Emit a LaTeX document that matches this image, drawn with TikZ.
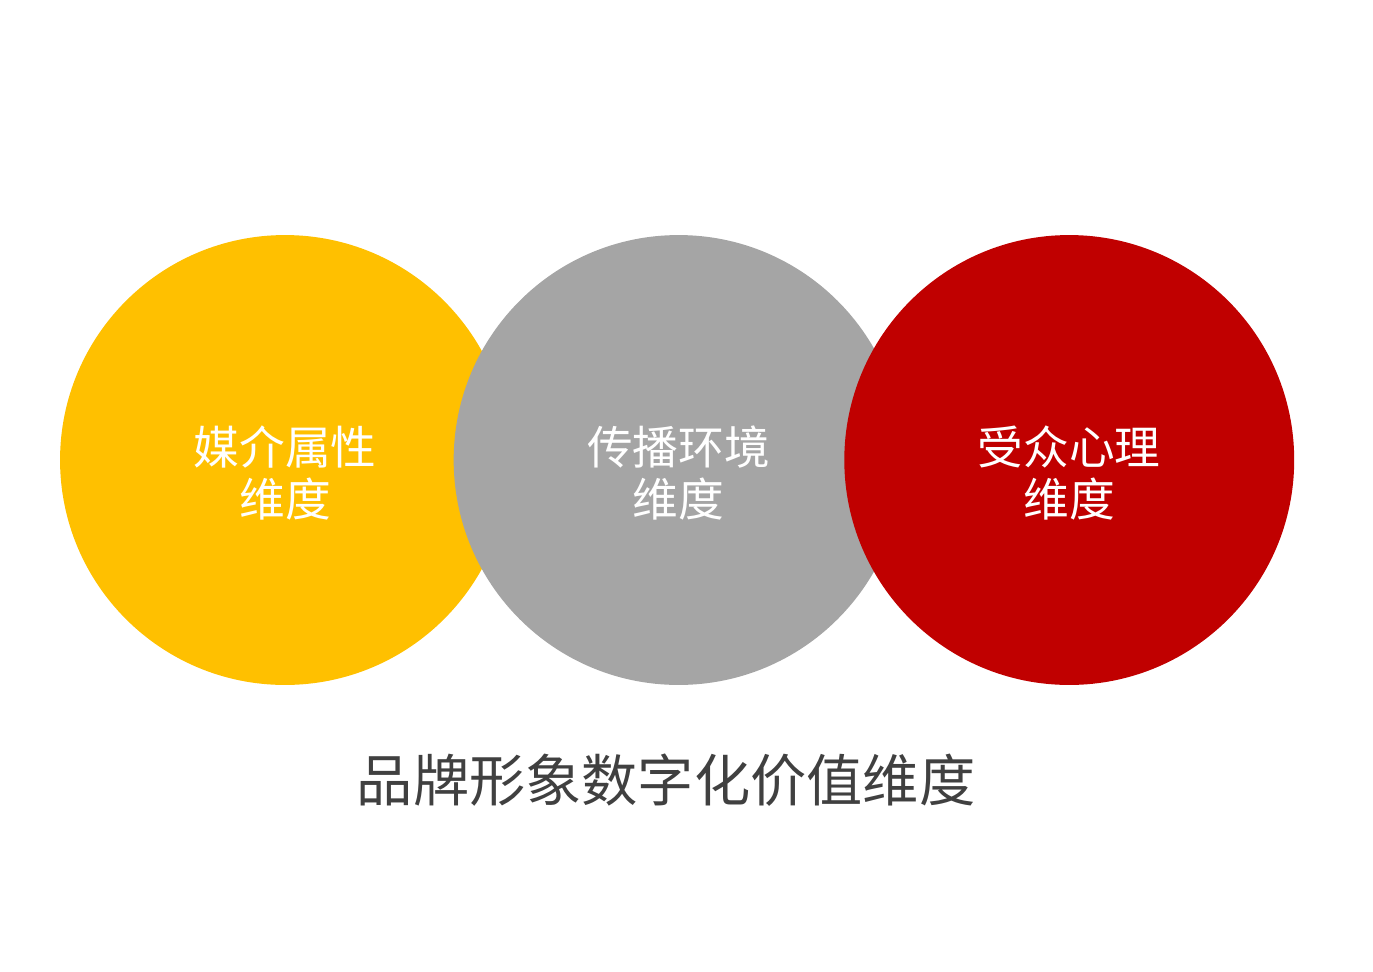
\documentclass[tikz,border=0pt]{standalone}
\usepackage{fontspec}
\usepackage{xcolor}
\usepackage{tikz}
\usetikzlibrary{positioning}
\newfontfamily\cjk{Noto Sans CJK SC}
\definecolor{dimyellow}{HTML}{FFC000}
\definecolor{dimgray}{HTML}{A5A5A5}
\definecolor{dimred}{HTML}{C00000}
\definecolor{titlegray}{HTML}{404040}
\tikzset{dim circle/.style={circle,minimum size=9cm,inner sep=0pt},dim text/.style={text=white,align=center,yshift=-0.26cm,font=\cjk\fontsize{26}{30}\selectfont},title label/.style={text=titlegray,font=\cjk\fontsize{32}{38}\selectfont}}

\begin{document}
\begin{tikzpicture}[x=0.02cm,y=-0.02cm]
			\useasboundingbox (0,0) rectangle (1373,971);
			\node[dim circle,fill=dimyellow,label={[dim text]center:{媒介属性\\维度}}] (media) at (285,460) {};
			\node[dim circle,fill=dimgray,right=-1.14cm of media,label={[dim text]center:{传播环境\\维度}}] (spread) {};
			\node[dim circle,fill=dimred,right=-1.2cm of spread,label={[dim text]center:{受众心理\\维度}}] (audience) {};
			\node[title label] (title) at (666,780) {品牌形象数字化价值维度};
		\end{tikzpicture}
\end{document}
